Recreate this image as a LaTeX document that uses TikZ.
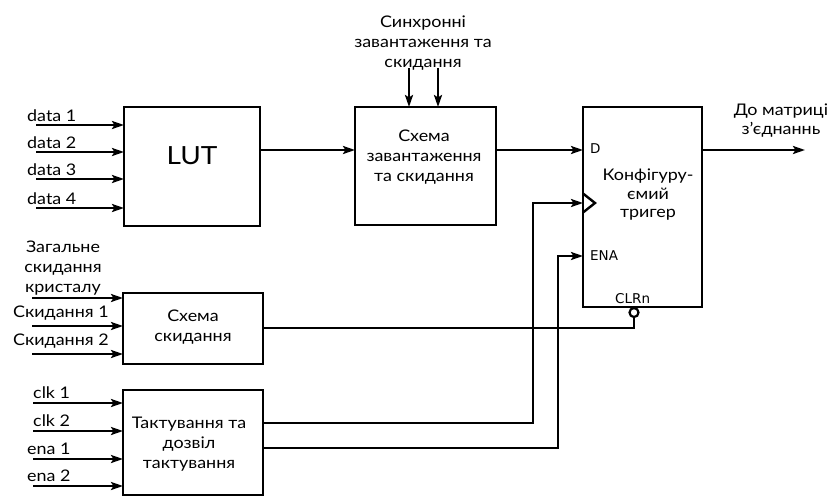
\documentclass[tikz,border=0pt]{standalone}
\usepackage{fontspec}
\setmainfont{Lato}[FakeStretch=1.12]
\newfontfamily\pinfont{DejaVu Sans}
\usetikzlibrary{arrows.meta}
\begin{document}
\begin{tikzpicture}[x=1pt,y=-1pt,
  blk/.style={draw, line width=2.8pt, inner sep=0pt, outer sep=0pt},
  wire/.style={line width=2.4pt},
  arr/.style={wire, -{Stealth[length=12pt,width=8pt,inset=2.5pt]}},
  lbl/.style={font=\fontsize{16}{20}\selectfont, inner sep=0pt},
  pin/.style={font=\pinfont\fontsize{13.5}{15}\selectfont, inner sep=0pt, anchor=west},
  txt/.style={font=\fontsize{16}{20}\selectfont, align=center, inner sep=0pt}]
\useasboundingbox[fill=white] (0,0) rectangle (832,498);

% blocks
\node[blk, minimum width=136pt, minimum height=119pt] (lut) at (192,166.5) {};
\node[font=\fontsize{25}{28}\selectfont, inner sep=0pt] (lutt) at (192,156) {LUT};
\node[blk, minimum width=141pt, minimum height=118pt] (load) at (425.5,166) {};
\node[txt] (loadt) at (424,157) {Схема\\завантаження\\та скидання};
\node[blk, minimum width=119pt, minimum height=200pt] (ff) at (642.5,207) {};
\node[txt, font=\fontsize{16}{18.5}\selectfont] (fft) at (648,195) {Конфігуру-\\ємий\\тригер};
\node[blk, minimum width=140pt, minimum height=71pt] (rst) at (193,328.5) {};
\node[txt] (rstt) at (193,327) {Схема\\скидання};
\node[blk, minimum width=140pt, minimum height=105pt] (clk) at (193,442.5) {};
\node[txt] (clkt) at (189,444) {Тактування та\\дозвіл\\тактування};

% flip-flop pins
\node[pin] (pd) at (590,149) {D};
\node[pin] (pena) at (590,256) {ENA};
\node[pin] (pclr) at (615,298.5) {CLRn};
\coordinate (ckin) at (583,203);
\draw[line width=2.4pt, line join=miter] (583,193.5) -- (595,203) -- (583,212.5);
\node[draw, circle, line width=2.2pt, fill=white, minimum size=9pt, inner sep=0pt] (bub) at (634,312.5) {};

% data inputs
\foreach \y/\t [count=\i] in {125/data 1,152/data 2,179/data 3,208/data 4}{
  \coordinate (din\i) at (36,\y);
  \node[lbl, anchor=base west] (dl\i) at (27,121.5+\y-125) {\t};
  \draw[arr] (din\i) -- (din\i -| lut.west);
}

% LUT -> load -> ff -> out
\coordinate (lutout) at (lut.east |- 0,150);
\draw[arr] (lutout) -- (lutout -| load.west);
\coordinate (loadout) at (load.east |- 0,150);
\draw[arr] (loadout) -- (loadout -| ff.west);
\coordinate (ffout) at (ff.east |- 0,150);
\coordinate (outend) at (805,150);
\draw[arr] (ffout) -- (outend);
\node[txt, font=\fontsize{16}{19}\selectfont] (outl) at (781,121) {До матриці\\з’єднаннь};

% top inputs of load block
\node[txt] (topl) at (423,43) {Синхронні\\завантаження та\\скидання};
\coordinate (ti1) at (409,68);
\coordinate (ti2) at (438,68);
\draw[arr] (ti1) -- (ti1 |- load.north);
\draw[arr] (ti2) -- (ti2 |- load.north);

% reset inputs
\node[lbl, anchor=base] (g1) at (63,252) {Загальне};
\node[lbl, anchor=base] (g2) at (63,272) {скидання};
\node[lbl, anchor=base] (g3) at (63,292) {кристалу};
\node[lbl, anchor=base west] (s1) at (13,317.5) {Скидання 1};
\node[lbl, anchor=base west] (s2) at (13,345.5) {Скидання 2};
\foreach \y [count=\i] in {298,326,354}{
  \coordinate (rin\i) at (32,\y);
  \draw[arr] (rin\i) -- (rin\i -| rst.west);
}

% clock inputs
\foreach \y/\t/\xx [count=\i] in {403/clk 1/33,431/clk 2/33,459/ena 1/27,486/ena 2/27}{
  \coordinate (cin\i) at (33,\y);
  \node[lbl, anchor=base west] (cl\i) at (\xx,\y-4.5) {\t};
  \draw[arr] (cin\i) -- (cin\i -| clk.west);
}

% reset -> CLRn
\coordinate (rout) at (rst.east |- 0,328);
\draw[wire, line join=miter] (rout) -- (634,328) -- (bub.south);

% clock -> ff clock
\coordinate (ckout) at (clk.east |- 0,423);
\draw[arr, line join=miter] (ckout) -- (533,423) -- (533,203) -- (ckin);

% enable -> ENA
\coordinate (enout) at (clk.east |- 0,448);
\draw[arr, line join=miter] (enout) -- (558,448) -- (558,256) -- (558,256 -| ff.west);
\end{tikzpicture}
\end{document}
